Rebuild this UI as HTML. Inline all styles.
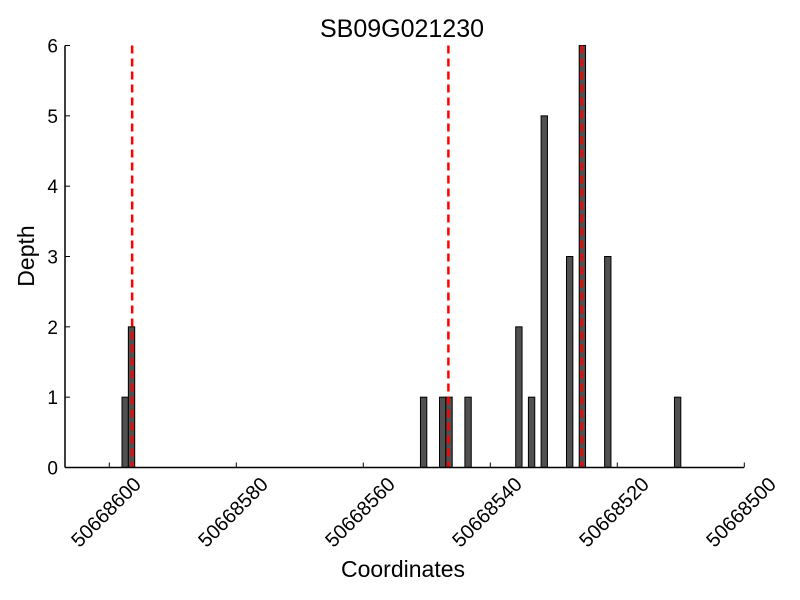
<!DOCTYPE html>
<html><head><meta charset="utf-8"><style>
body{margin:0;background:#fff;}
svg{display:block;font-family:"Liberation Sans",sans-serif;}
</style></head><body>
<svg id="chart" width="800" height="600" viewBox="0 0 800 600">
<text x="402" y="37" font-size="25" text-anchor="middle">SB09G021230</text>
<text transform="translate(34,256) rotate(-90)" font-size="23" text-anchor="middle">Depth</text>
<text x="403" y="577" font-size="23" text-anchor="middle">Coordinates</text>
<g id="bars"></g><g id="lines"></g><g id="axes"></g>
</svg>
<script>
const base = 50668000;
const barCoords = [597, 596, 550, 547, 546, 543, 535, 533, 531, 527, 525, 521, 510];
const barDepths = [1, 2, 1, 1, 1, 1, 2, 1, 5, 3, 6, 3, 1];
const markerCoords = [596.4, 546.6, 525.6];
const xTicks = [600, 580, 560, 540, 520, 500];
const yTicks = [0, 1, 2, 3, 4, 5, 6];

const NS = 'http://www.w3.org/2000/svg';
const X = v => 109.3 + (600 - v) * 6.35;
const Y = d => 467.5 - d * 70.33;
function mk(tag, attrs, parent){const e=document.createElementNS(NS,tag);for(const k in attrs)e.setAttribute(k,attrs[k]);parent.appendChild(e);return e;}
const gb=document.getElementById('bars'), gl=document.getElementById('lines'), ga=document.getElementById('axes');
barCoords.forEach((c,i)=>{
  const x1=X(c+1), x2=X(c);
  const r=mk('rect',{x:x1,y:Y(barDepths[i]),width:x2-x1,height:Y(0)-Y(barDepths[i]),fill:'#505050',stroke:'#000','stroke-width':1},gb);
  
  
});
markerCoords.forEach((c,i)=>{
  const l=mk('line',{x1:X(c),x2:X(c),y1:Y(6),y2:Y(0),stroke:'#ff0000','stroke-width':2.5,'stroke-dasharray':'8,5'},gl);
  
  
});
const xa=mk('line',{x1:65,x2:744,y1:Y(0),y2:Y(0),stroke:'#000','stroke-width':1.5},ga);


const ya=mk('line',{x1:65,x2:65,y1:Y(6),y2:Y(0),stroke:'#000','stroke-width':1.5},ga);


xTicks.forEach(t=>{
  const x=X(t);
  mk('line',{x1:x,x2:x,y1:Y(0),y2:Y(0)-5,stroke:'#000','stroke-width':1},ga);
  const tx=mk('text',{transform:`translate(${x+33},${Y(0)+18}) rotate(-45)`,'font-size':20,'text-anchor':'end'},ga);
  tx.textContent=String(base+t);
  
  
});
yTicks.forEach(t=>{
  const y=Y(t);
  mk('line',{x1:65,x2:70,y1:y,y2:y,stroke:'#000','stroke-width':1},ga);
  const tx=mk('text',{x:58,y:y+7,'font-size':19,'text-anchor':'end'},ga);
  tx.textContent=String(t);
  
  
});
</script>
</body></html>
